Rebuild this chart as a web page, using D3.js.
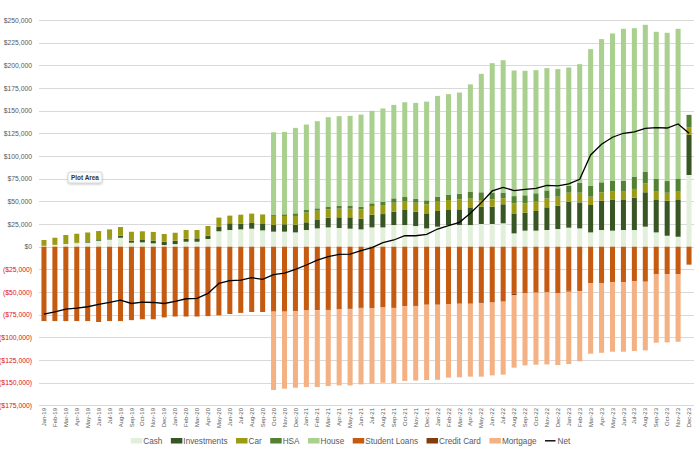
<!DOCTYPE html>
<html>
<head>
<meta charset="utf-8">
<script src="https://cdn.jsdelivr.net/npm/d3@7"></script>
<style>
  body { margin: 0; background: #fff; }
  svg { display: block; font-family: "Liberation Sans", Arial, sans-serif; }
</style>
</head>
<body>
<div id="chart"></div>
<script>
// monthly balances, dollars
var months = ["Jan-19","Feb-19","Mar-19","Apr-19","May-19","Jun-19","Jul-19","Aug-19","Sep-19","Oct-19","Nov-19","Dec-19",
  "Jan-20","Feb-20","Mar-20","Apr-20","May-20","Jun-20","Jul-20","Aug-20","Sep-20","Oct-20","Nov-20","Dec-20",
  "Jan-21","Feb-21","Mar-21","Apr-21","May-21","Jun-21","Jul-21","Aug-21","Sep-21","Oct-21","Nov-21","Dec-21",
  "Jan-22","Feb-22","Mar-22","Apr-22","May-22","Jun-22","Jul-22","Aug-22","Sep-22","Oct-22","Nov-22","Dec-22",
  "Jan-23","Feb-23","Mar-23","Apr-23","May-23","Jun-23","Jul-23","Aug-23","Sep-23","Oct-23","Nov-23","Dec-23"];

var cash = [1000,2000,3000,4000,4500,6600,8000,9900,4400,4800,3700,1800,2900,5500,5500,8500,17000,18400,19100,19900,18000,
  16600,16600,15800,18400,20200,21300,20600,19900,19100,21300,21300,23900,23900,22800,20200,22100,23900,23900,23900,
  25000,25000,25800,14700,17700,17700,18400,19500,21000,20200,15800,18400,17700,18400,18400,22100,15800,12100,11000,79100];

var investments = [0,0,0,500,700,1500,1100,2200,2200,2600,3000,3700,3700,3300,3700,3700,5200,7400,6300,6300,7700,
  7400,8100,8500,8500,9900,10700,11800,12500,11800,14000,14700,14700,16600,15800,16600,17300,16600,17300,19500,
  19100,19100,21000,22000,19900,21700,25000,25800,28700,28700,30200,32400,33900,33100,35700,37900,36400,38600,41200,44200];

var car = [6400,7900,9900,9800,10500,9200,10000,9600,9900,9600,9600,8500,8800,9600,9200,10700,9900,8500,9900,10300,9900,
  9900,9200,9600,10700,9600,9200,9600,9600,10300,9600,9900,9900,9900,9900,9900,10300,11000,11000,9600,
  7400,8100,6600,11000,10300,10300,9900,9900,9900,10700,9200,9200,9200,9200,9600,9900,8500,8800,8500,8100];

var hsa = [0,0,0,0,0,0,0,0,0,0,0,0,0,0,0,0,0,0,0,0,0,
  1000,1800,2900,2900,2600,2600,2900,2900,2900,2900,3700,4800,4400,4400,4400,5500,5900,6300,7400,
  8500,7400,6300,8100,8800,9200,8800,9200,7400,11000,11800,11000,12100,12100,13600,12500,14000,12900,14000,14000];

var house = [0,0,0,0,0,0,0,0,0,0,0,0,0,0,0,0,0,0,0,0,0,
  91300,90900,94200,94200,96100,99000,99000,99400,101600,102000,102800,103100,104500,105700,108900,111100,110800,111500,118600,
  130600,142800,146000,138500,137300,135800,134800,131400,130600,130700,150900,157900,162300,167500,163700,162300,162300,163500,165600,0];

var studentLoans = [-82000,-82000,-82000,-82000,-82000,-83000,-82000,-82000,-81000,-80000,-80000,-78000,-77000,-77000,-77000,-76500,-75700,-74200,-73000,-72000,-72000,
  -71600,-71600,-71000,-70300,-70000,-68600,-69200,-67700,-67200,-68000,-67000,-67500,-65500,-64500,-64000,-64000,-63200,-62900,-62900,
  -61200,-61600,-60600,-51800,-51500,-50700,-50400,-51500,-48600,-48900,-40400,-40000,-39000,-39000,-38200,-38600,-30100,-30100,-30100,-19800];

var creditCard = [0,0,0,0,0,0,0,0,0,0,0,0,0,0,0,0,0,0,0,0,0,
  0,0,0,0,0,-1000,0,-800,-800,0,0,0,0,-800,0,0,0,0,0,
  -800,0,0,-1500,0,0,0,0,-1000,0,0,0,0,0,0,0,0,0,0,0];

var mortgage = [0,0,0,0,0,0,0,0,0,0,0,0,0,0,0,0,0,0,0,0,0,
  -86400,-85000,-84500,-84500,-84800,-84100,-83800,-84500,-83800,-83000,-83000,-83000,-82500,-82300,-83000,-82800,-81200,-81100,-80400,
  -81300,-80300,-80500,-80100,-79400,-79400,-79400,-79000,-79800,-77500,-77600,-77000,-76800,-76800,-76800,-75700,-75800,-75400,-74700,0];

var net = [-74300,-71800,-68800,-67700,-66200,-63700,-61500,-58900,-62600,-61100,-61500,-62600,-60400,-57400,-57000,-51500,-40500,-37500,-36800,-34200,-36100,
  -30900,-29100,-25000,-20200,-14700,-11000,-8500,-8100,-4400,-1000,4400,7400,12100,12100,13600,19500,23200,26900,36800,
  48600,61500,65500,61800,63300,64400,67700,67000,69200,74300,101200,113000,120700,125100,126600,130600,131400,130900,135400,125100];

var seriesNames = ["Cash", "Investments", "Car", "HSA", "House", "Student Loans", "Credit Card", "Mortgage"];
var seriesValues = [cash, investments, car, hsa, house, studentLoans, creditCard, mortgage];
var seriesColors = ["#e2efda", "#375623", "#9c9c14", "#548235", "#a9d08e", "#c55a11", "#843c0c", "#f4b183"];

var width = 700, height = 451;

var rows = months.map(function (m, i) {
  var r = { month: m };
  seriesNames.forEach(function (k, j) { r[k] = seriesValues[j][i]; });
  return r;
});

var svg = d3.select("#chart").append("svg")
  .attr("width", width)
  .attr("height", height);

var x = d3.scaleBand()
  .domain(months)
  .range([38.5, 694.5])
  .paddingInner(0.54)
  .paddingOuter(0.27);

var y = d3.scaleLinear()
  .domain([-175000, 250000])
  .range([405.4, 20]);

var ticks = d3.range(-175000, 250001, 25000);

// gridlines
svg.append("g")
  .attr("class", "grid")
  .selectAll("line")
  .data(ticks)
  .enter()
  .append("line")
  .attr("x1", 39)
  .attr("x2", 694)
  .attr("y1", function (d) { return Math.round(y(d)) + 0.5; })
  .attr("y2", function (d) { return Math.round(y(d)) + 0.5; })
  .attr("stroke", "#d9d9d9")
  .attr("stroke-width", 1);

// y axis labels
var fmt = d3.format("$,.0f");
var yAxis = svg.append("g")
  .attr("transform", "translate(32,0)")
  .call(d3.axisLeft(y)
    .tickValues(ticks)
    .tickSize(0)
    .tickPadding(0)
    .tickFormat(function (d) { return d < 0 ? "(" + fmt(-d) + ")" : fmt(d); }));
yAxis.select(".domain").remove();
yAxis.selectAll("text")
  .attr("font-size", 6.8)
  .attr("font-family", "Liberation Sans, Arial, sans-serif")
  .attr("fill", function (d) { return d < 0 ? "#e01010" : "#595959"; });

// stacked bars
var stack = d3.stack()
  .keys(seriesNames)
  .offset(d3.stackOffsetDiverging);
var layers = stack(rows);

svg.append("g")
  .attr("class", "bars")
  .selectAll("g")
  .data(layers)
  .enter()
  .append("g")
  .attr("fill", function (d, i) { return seriesColors[i]; })
  .selectAll("rect")
  .data(function (d) { return d.filter(function (p) { return p[1] !== p[0]; }); })
  .enter()
  .append("rect")
  .attr("x", function (d) { return x(d.data.month); })
  .attr("width", x.bandwidth())
  .attr("y", function (d) { return y(Math.max(d[0], d[1])); })
  .attr("height", function (d) { return Math.abs(y(d[0]) - y(d[1])); });

// net line
var line = d3.line()
  .x(function (d, i) { return x(months[i]) + x.bandwidth() / 2; })
  .y(function (d) { return y(d); });

svg.append("path")
  .datum(net)
  .attr("d", line)
  .attr("fill", "none")
  .attr("stroke", "#000")
  .attr("stroke-width", 1.3);

// x axis labels
var xAxis = svg.append("g")
  .attr("transform", "translate(0,408)")
  .call(d3.axisBottom(x).tickSize(0).tickPadding(0));
xAxis.select(".domain").remove();
xAxis.selectAll("text")
  .attr("transform", "rotate(-90)")
  .attr("text-anchor", "end")
  .attr("x", 0)
  .attr("y", 0)
  .attr("dy", "0.35em")
  .attr("font-size", 6)
  .attr("font-family", "Liberation Sans, Arial, sans-serif")
  .attr("fill", "#595959");

// legend, laid out left to right then centred
var legend = svg.append("g").attr("class", "legend");
var cursor = 0;
var legendItems = seriesNames.concat(["Net"]);
legendItems.forEach(function (k, i) {
  var item = legend.append("g").attr("transform", "translate(" + cursor + ",0)");
  if (k === "Net") {
    item.append("line")
      .attr("x1", 0).attr("x2", 10.5)
      .attr("y1", 440.8).attr("y2", 440.8)
      .attr("stroke", "#000")
      .attr("stroke-width", 1.4);
  } else {
    item.append("rect")
      .attr("x", 0)
      .attr("y", 438)
      .attr("width", 11.5)
      .attr("height", 5.5)
      .attr("fill", seriesColors[i]);
  }
  var t = item.append("text")
    .attr("x", 12.5)
    .attr("y", 444)
    .attr("font-size", 8.2)
    .attr("fill", "#595959")
    .text(k);
  cursor += 12.5 + t.node().getComputedTextLength() + 8.5;
});
var legendWidth = cursor - 8.5;
legend.attr("transform", "translate(" + (350.5 - legendWidth / 2) + ",0)");

// "Plot Area" hover tag
var defs = svg.append("defs");
var shadow = defs.append("filter").attr("id", "tagShadow")
  .attr("x", "-30%").attr("y", "-50%").attr("width", "160%").attr("height", "220%");
shadow.append("feDropShadow")
  .attr("dx", 0).attr("dy", 1).attr("stdDeviation", 1.2)
  .attr("flood-color", "#000").attr("flood-opacity", 0.25);

var tag = svg.append("g").attr("transform", "translate(68,172)");
tag.append("rect")
  .attr("width", 34)
  .attr("height", 11)
  .attr("rx", 2)
  .attr("fill", "#fbfbfb")
  .attr("stroke", "#c8c8c8")
  .attr("stroke-width", 0.6)
  .attr("filter", "url(#tagShadow)");
tag.append("text")
  .attr("x", 17)
  .attr("y", 8)
  .attr("text-anchor", "middle")
  .attr("font-size", 6.4)
  .attr("font-weight", 600)
  .attr("fill", "#333")
  .text("Plot Area");
</script>
</body>
</html>
